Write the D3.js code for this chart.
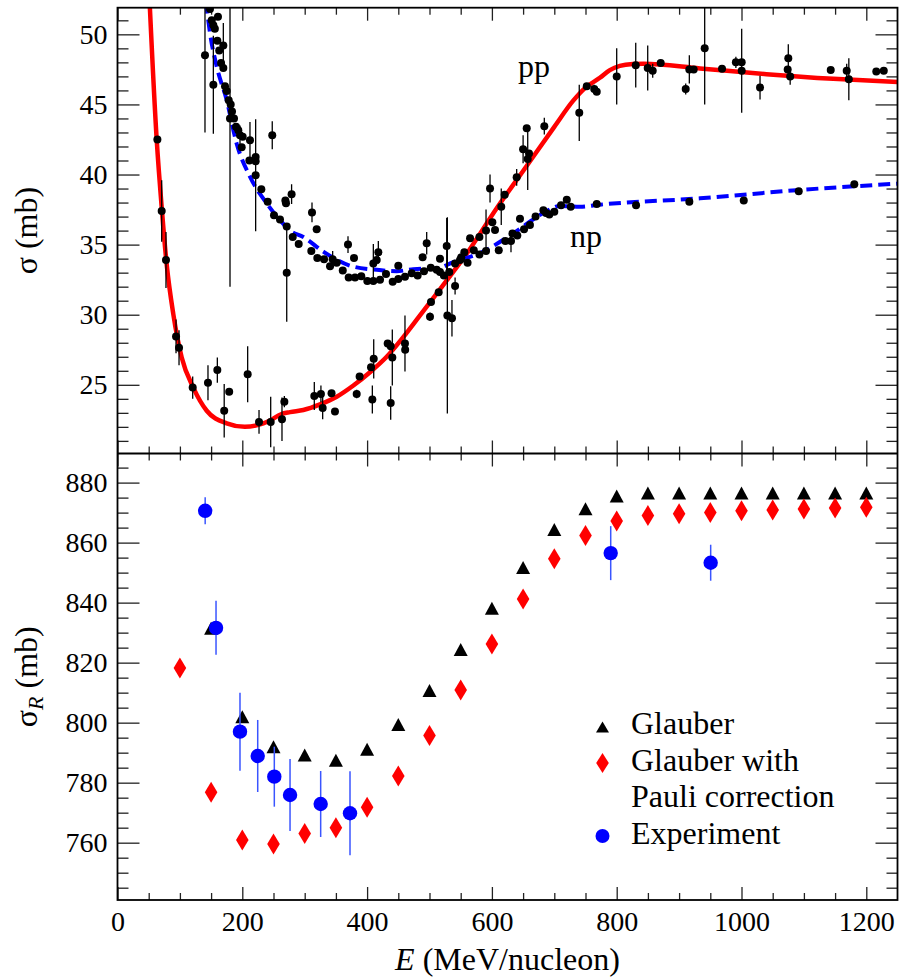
<!DOCTYPE html>
<html><head><meta charset="utf-8">
<script src="https://cdn.jsdelivr.net/npm/d3@7"></script>
<style>
body{margin:0;background:#fff}
svg{display:block}
svg text{font-family:"Liberation Serif","Times New Roman",serif !important;fill:#000}
</style>
</head><body>
<svg id="c" width="900" height="978"></svg>
<script>
// ---------- DATA ----------
// top panel: [E (MeV), sigma (mb), error]
const ppData = [
[63.9,42.5,0],[70.8,37.4,2.2],[77.7,33.9,2.0],[93.8,28.45,1.2],[98.6,27.65,1.25],[120.5,24.8,0.8],
[145,25.15,1.25],[160,26.05,0.9],[171,23.15,1.9],[179,24.5,0],[208.6,25.75,2.0],[226.8,22.35,0.85],
[245.5,22.35,1.8],[263.6,22.55,1.55],[267.4,23.8,0.4],[315.4,24.2,1.0],[326,24.35,0.6],[328.8,23.35,0.8],
[343,24.4,0],[348.5,23.1,0],[383.3,24.35,0.3],[388,25.6,0],[406.3,26.25,0],[408.4,23.95,1.0],[410.6,26.85,1.4],
[433,27.95,0],[437.8,27.75,0],[440.4,26.95,2.0],[437.8,23.7,1.2],[460.7,27.95,2.0],[461,27.5,0],
[500.8,29.85,0.3],[502.4,30.9,0],[514.7,31.6,0],[528.6,29.95,7.0],[536,29.75,1.3],[541,32.05,0.6],
[550.5,34.0,0],[565,35.45,0],[580,35.55,0],[590.6,36.0,1.5],[597,39.0,1.0],[600.7,36.6,0],[605,36.05,0],
[615,37.7,1.3],[620.5,38.55,0],[639.7,39.8,0.6],[650,41.8,1.0],[655.8,43.3,0],[657.4,41.1,2.2],[659.5,41.5,0],
[684,43.45,0.6],[740,44.4,2.0],[752,46.3,0],[764,46.1,0.3],[768,45.9,0],[800,47.0,2.0],[830.5,47.8,1.6],
[849.7,47.6,1.6],[857.7,47.4,0.5],[870.5,47.95,0],[910.6,46.1,0.4],[916.4,47.5,1.0],[923.4,47.5,0],
[941,49.0,4.0],[968.8,47.55,0],[991,48.0,0.4],[1000.3,48.0,0],[1000.3,47.4,3.0],[1029.7,46.2,0.85],
[1075,48.3,1.0],[1074,47.5,0],[1078,47.0,0.6],[1143,47.45,0],[1168.6,47.4,0.5],[1172,46.8,1.5],
[1216,47.35,0],[1228,47.4,0]
];
const npData = [
[140.2,48.5,5.5],[148.2,51.8,0],[151,51.0,0],[153.6,50.65,0],[156,50.4,0],[161,51.25,0],[153.6,46.4,3.5],
[160,49.55,0],[163,48.85,0],[169.6,49.2,1.6],[166,47.95,0],[169.6,47.6,0],[172.3,46.3,0],[175,45.95,0],
[178.2,45.3,0],[181.4,45.0,0],[183.5,44.5,0],[180.3,44.0,12],[186.7,44.0,0],[190,43.4,0],[193.6,43.15,0],
[196.3,42.8,0.7],[200.6,42.7,0],[199,41.95,0],[212.3,42.45,1.3],[211.3,41.0,0],[221.4,41.25,0],[221.4,40.95,0],
[221.4,39.95,4.0],[248,42.8,1.0],[230.5,38.95,0],[240.7,38.05,0],[250.8,37.1,0],[260.4,36.8,0],[269,38.15,0],
[270,37.95,0],[271.2,33.0,3.5],[279,38.6,0.7],[271.2,36.3,0],[280.8,35.55,0],[290.4,35.05,0],[311.7,37.3,0.7],
[319.2,36.1,0],[310.6,34.55,0],[320.2,34.05,0],[331,33.95,0],[340.6,33.45,0],[344.8,33.95,0.6],[351.3,33.7,0],
[361,33.15,0],[369.4,35.0,0.6],[379,34.05,0],[370.5,32.65,0],[380.6,32.65,0],[390.7,32.75,0],[400.3,32.4,0],
[410,32.4,0],[410,33.65,1.4],[415.4,33.9,0],[418,34.45,0.8],[420.7,32.5,0],[430.3,32.9,0],[441,32.35,0],
[450,33.5,0],[450,32.55,0],[460.7,32.7,0],[471.5,32.95,0],[481,32.8,0],[489,34.1,0],[491.2,33.1,0],
[495.5,35.1,0.8],[502,33.35,0],[511.5,33.2,0],[516.8,34.0,0],[516.8,33.05,0],[523,32.8,0],[527.6,34.9,2.0],
[531.7,33.05,0],[541,33.65,0],[548.9,33.9,0],[551,34.1,0],[555.8,34.45,0],[561,33.7,0],[571,34.6,0],
[580,34.3,0],[590.6,34.55,0],[611,34.6,0],[621.5,35.25,0],[630.6,35.25,0.8],[633,35.8,0],[640.7,35.65,0],
[645,36.85,0],[651.5,36.1,0],[661,36.4,0],[670,37.0,0],[682.5,37.45,0],[686.7,37.25,0],[692,37.15,0],
[700,37.35,0],[710.8,37.8,0],[720,38.2,0],[726.3,37.7,0],[768,37.9,0],[831,37.8,0],[916.4,38.05,0],
[1003.6,38.15,0],[1091.7,38.8,0],[1180.8,39.3,0]
];
// fitted curves: [E, sigma]
const ppCurve = [
[50,53.7],[62.8,42.5],[71.3,37.4],[78.8,33.6],[89.4,30.05],[102.9,26.95],[121.5,24.8],[143,23.15],
[175,22.25],[204,22.0],[233.7,22.25],[244.4,22.45],[262,22.9],[276.5,23.05],[297.8,23.2],[324.5,23.6],
[351.3,24.15],[378,24.95],[404.6,25.9],[431.4,27.0],[458,28.4],[484.8,29.95],[511.5,31.5],[538,33.05],
[559.6,34.35],[607.7,37.6],[650,40.25],[700,43.4],[730,45.25],[750,46.2],[773,46.9],[789,47.45],
[805,47.75],[826,47.88],[843,47.9],[933.5,47.57],[1040,47.16],[1147,46.83],[1250,46.6]
];
const npCurve = [
[138,53.6],[143,51.85],[148.2,50.1],[159,47.7],[175,45.3],[191,42.2],[212.3,39.85],[239,37.95],
[260.4,36.75],[276.5,36.0],[297.8,35.55],[329.8,34.5],[372.6,33.5],[415.4,33.2],[447.4,33.1],[474,33.25],
[511.5,33.3],[538,33.75],[581,34.4],[634.3,35.8],[682.5,37.25],[709,37.75],[741,37.7],[773,37.85],
[933.5,38.3],[1093.6,38.9],[1250,39.35]
];
// bottom panel
const calcE = [100,150,200,250,300,350,400,450,500,550,600,650,700,750,800,850,900,950,1000,1050,1100,1150,1200];
const glauber = [null,831,801.5,791.5,788.7,787,790.6,798.9,810.2,823.9,837.6,851.2,863.9,870.8,875,876,876,876,876,876,876,876,876];
const pauli = [818.2,776.8,760.9,759.6,763.1,765,771.8,782.2,795.7,810.9,826.2,841.2,854.6,862.4,867.2,869,869.6,870,870.6,870.9,871.2,871.5,871.8];
const expE = [140.5,157.9,196.3,224.7,251.3,276.5,325.6,372.6,790.4,950.6];
const expVal = [870.6,831.6,797,788.9,782,775.9,772.9,769.8,856.5,853.3];
const expErr = [4.5,9,13,12,10,12,11,14,9,6];
const xTicks = [0,200,400,600,800,1000,1200];
const yTopTicks = [25,30,35,40,45,50];
const yBotTicks = [760,780,800,820,840,860,880];
const legendLabels = ["Glauber","Glauber with","Pauli correction","Experiment"];

// ---------- DRAW ----------
const svg = d3.select("#c");
const L=117.5, R=897.5, T=7.7, M=453.5, B=900;
const x = d3.scaleLinear().domain([0,1250]).range([L,R]);
const yT = d3.scaleLinear().domain([20.1,51.9]).range([M,T]);
const yB = d3.scaleLinear().domain([740.9,889.7]).range([B,M]);

const FS = 28;   // tick labels
const LFS = 32;  // titles, legend, annotations
const FONT = '"Liberation Serif","Times New Roman",serif';
const tickColor = "#222";

const defs = svg.append("defs");
defs.append("clipPath").attr("id","clipT")
  .append("rect").attr("x",L).attr("y",T).attr("width",R-L).attr("height",M-T);
defs.append("clipPath").attr("id","clipB")
  .append("rect").attr("x",L).attr("y",M).attr("width",R-L).attr("height",B-M);

function styleAxis(g, showText){
  g.attr("font-family",null).attr("font-size",null);
  g.select(".domain").remove();
  g.selectAll(".tick line").attr("stroke",tickColor).attr("stroke-width",1.3);
  g.selectAll("text").style("font-family",FONT).style("font-size",FS+"px").attr("fill","#000");
  if(!showText) g.selectAll("text").remove();
}
const xMinor = d3.range(50,1250,50).filter(v=>v%200!==0);
const yTopMinor = d3.range(21,52,1).filter(v=>v%5!==0);
const yBotMinor = d3.range(745,890,5).filter(v=>v%20!==0);

// x axes
svg.append("g").attr("transform",`translate(0,${B})`)
  .call(d3.axisBottom(x).tickValues(xTicks).tickSize(-13).tickPadding(11).tickFormat(d3.format("d")))
  .call(g=>styleAxis(g,true));
svg.append("g").attr("transform",`translate(0,${B})`)
  .call(d3.axisBottom(x).tickValues(xMinor).tickSize(-7).tickFormat(""))
  .call(g=>styleAxis(g,false));
[[T,"top"],[M,"top"],[M,"bottom"]].forEach(([yy,dir])=>{
  const mk = ()=> dir==="top" ? d3.axisTop(x) : d3.axisBottom(x);
  svg.append("g").attr("transform",`translate(0,${yy})`)
    .call(mk().tickValues(xTicks).tickSize(-13).tickFormat(""))
    .call(g=>styleAxis(g,false));
  svg.append("g").attr("transform",`translate(0,${yy})`)
    .call(mk().tickValues(xMinor).tickSize(-7).tickFormat(""))
    .call(g=>styleAxis(g,false));
});
// y axes top panel
svg.append("g").attr("transform",`translate(${L},0)`)
  .call(d3.axisLeft(yT).tickValues(yTopTicks).tickSize(-22).tickPadding(10))
  .call(g=>styleAxis(g,true));
svg.append("g").attr("transform",`translate(${L},0)`)
  .call(d3.axisLeft(yT).tickValues(yTopMinor).tickSize(-11).tickFormat(""))
  .call(g=>styleAxis(g,false));
svg.append("g").attr("transform",`translate(${R},0)`)
  .call(d3.axisRight(yT).tickValues(yTopTicks).tickSize(-22).tickFormat(""))
  .call(g=>styleAxis(g,false));
svg.append("g").attr("transform",`translate(${R},0)`)
  .call(d3.axisRight(yT).tickValues(yTopMinor).tickSize(-11).tickFormat(""))
  .call(g=>styleAxis(g,false));
// y axes bottom panel
svg.append("g").attr("transform",`translate(${L},0)`)
  .call(d3.axisLeft(yB).tickValues(yBotTicks).tickSize(-22).tickPadding(10))
  .call(g=>styleAxis(g,true));
svg.append("g").attr("transform",`translate(${L},0)`)
  .call(d3.axisLeft(yB).tickValues(yBotMinor).tickSize(-11).tickFormat(""))
  .call(g=>styleAxis(g,false));
svg.append("g").attr("transform",`translate(${R},0)`)
  .call(d3.axisRight(yB).tickValues(yBotTicks).tickSize(-22).tickFormat(""))
  .call(g=>styleAxis(g,false));
svg.append("g").attr("transform",`translate(${R},0)`)
  .call(d3.axisRight(yB).tickValues(yBotMinor).tickSize(-11).tickFormat(""))
  .call(g=>styleAxis(g,false));

// ---------- top panel content ----------
const topG = svg.append("g").attr("clip-path","url(#clipT)");
const line = d3.line().x(d=>x(d[0])).y(d=>yT(d[1])).curve(d3.curveMonotoneX);
topG.append("path").datum(ppCurve).attr("d",line).attr("fill","none")
  .attr("stroke","#ff0000").attr("stroke-width",4.5);
topG.append("path").datum(npCurve).attr("d",line).attr("fill","none")
  .attr("stroke","#0000ff").attr("stroke-width",4).attr("stroke-dasharray","12,6");
const allPts = ppData.concat(npData);
topG.selectAll("line.err").data(allPts.filter(d=>d[2]>0)).enter().append("line")
  .attr("class","err")
  .attr("x1",d=>x(d[0])).attr("x2",d=>x(d[0]))
  .attr("y1",d=>yT(d[1]-d[2])).attr("y2",d=>yT(d[1]+d[2]))
  .attr("stroke","#000").attr("stroke-width",1.3);
topG.selectAll("circle.pt").data(allPts).enter().append("circle")
  .attr("class","pt")
  .attr("cx",d=>x(d[0])).attr("cy",d=>yT(d[1])).attr("r",4).attr("fill","#000");

svg.append("text").attr("x",518).attr("y",77).attr("font-size",LFS).text("pp");
svg.append("text").attr("x",570).attr("y",247).attr("font-size",LFS).text("np");

// ---------- bottom panel content ----------
const botG = svg.append("g").attr("clip-path","url(#clipB)");
const triPath = "M0,-8L7,5L-7,5Z";
const diaPath = "M0,-10.5L6.3,0L0,10.5L-6.3,0Z";
botG.selectAll("path.tri").data(calcE.map((e,i)=>[e,glauber[i]]).filter(d=>d[1]!==null)).enter()
  .append("path").attr("class","tri").attr("d",triPath).attr("fill","#000")
  .attr("transform",d=>`translate(${x(d[0])},${yB(d[1])})`);
botG.selectAll("path.dia").data(calcE.map((e,i)=>[e,pauli[i]])).enter()
  .append("path").attr("class","dia").attr("d",diaPath).attr("fill","#ff0000")
  .attr("transform",d=>`translate(${x(d[0])},${yB(d[1])})`);
const expPts = expE.map((e,i)=>[e,expVal[i],expErr[i]]);
botG.selectAll("line.eerr").data(expPts).enter().append("line")
  .attr("class","eerr")
  .attr("x1",d=>x(d[0])).attr("x2",d=>x(d[0]))
  .attr("y1",d=>yB(d[1]-d[2])).attr("y2",d=>yB(d[1]+d[2]))
  .attr("stroke","#3a55ff").attr("stroke-width",1.5);
botG.selectAll("circle.exp").data(expPts).enter().append("circle")
  .attr("class","exp")
  .attr("cx",d=>x(d[0])).attr("cy",d=>yB(d[1])).attr("r",7.2).attr("fill","#0000ff");

// legend
const lx = 602.5, tx = 631;
svg.append("path").attr("d","M0,-6.5L6.5,4.5L-6.5,4.5Z").attr("fill","#000").attr("transform",`translate(${lx},728)`);
svg.append("path").attr("d","M0,-10L6.3,0L0,10L-6.3,0Z").attr("fill","#ff0000").attr("transform",`translate(${lx},763)`);
svg.append("circle").attr("cx",lx).attr("cy",836).attr("r",7).attr("fill","#0000ff");
const lBase = [734,771,807,844];
legendLabels.forEach((t,i)=>{
  svg.append("text").attr("x",tx).attr("y",lBase[i]).attr("font-size",LFS).text(t);
});

// frame
svg.append("rect").attr("x",L).attr("y",T).attr("width",R-L).attr("height",B-T)
  .attr("fill","none").attr("stroke","#000").attr("stroke-width",1.8);
svg.append("line").attr("x1",L).attr("x2",R).attr("y1",M).attr("y2",M)
  .attr("stroke","#000").attr("stroke-width",1.8);

// axis titles
svg.append("text").attr("transform",`translate(37,${(T+M)/2}) rotate(-90)`)
  .attr("text-anchor","middle").attr("font-size",LFS).text("σ (mb)");
const yl = svg.append("text").attr("transform",`translate(37,${(M+B)/2}) rotate(-90)`)
  .attr("text-anchor","middle").attr("font-size",LFS);
yl.append("tspan").text("σ");
yl.append("tspan").attr("font-style","italic").attr("font-size",22).attr("dy",6).text("R");
yl.append("tspan").attr("dy",-6).text(" (mb)");
const xl = svg.append("text").attr("x",(L+R)/2).attr("y",970).attr("text-anchor","middle").attr("font-size",LFS);
xl.append("tspan").attr("font-style","italic").text("E");
xl.append("tspan").text(" (MeV/nucleon)");
</script>
</body></html>
